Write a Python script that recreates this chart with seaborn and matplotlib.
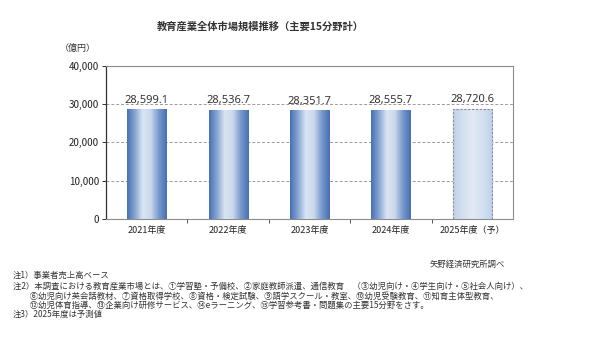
import numpy as np
import pandas as pd
import matplotlib
matplotlib.use("Agg")
import matplotlib.pyplot as plt
from matplotlib.colors import LinearSegmentedColormap
from matplotlib.ticker import FuncFormatter, FixedLocator
import seaborn as sns

# market size (100 million yen)
years = ["2021年度", "2022年度", "2023年度", "2024年度", "2025年度（予）"]
values = [28599.1, 28536.7, 28351.7, 28555.7, 28720.6]
forecast = [False, False, False, False, True]

title = "教育産業全体市場規模推移（主要15分野計）"
unit_label = "（億円）"
source = "矢野経済研究所調べ"
notes = [
    "注1）事業者売上高ベース",
    "注2）本調査における教育産業市場とは、①学習塾・予備校、②家庭教師派遣、通信教育　（③幼児向け・④学生向け・⑤社会人向け）、",
    "　　⑥幼児向け英会話教材、⑦資格取得学校、⑧資格・検定試験、⑨語学スクール・教室、⑩幼児受験教育、⑪知育主体型教育、",
    "　　⑫幼児体育指導、⑬企業向け研修サービス、⑭eラーニング、⑮学習参考書・問題集の主要15分野をさす。",
    "注3）2025年度は予測値",
]

sns.set_theme(style="white")
plt.rcParams["font.family"] = ["Noto Sans CJK JP", "DejaVu Sans"]

df = pd.DataFrame({"year": years, "value": values})

fig = plt.figure(figsize=(6.0, 3.41), dpi=100)
ax = fig.add_axes([106 / 600, 1 - 219 / 341, 407 / 600, 153.3 / 341])

sns.barplot(data=df, x="year", y="value", ax=ax, width=0.48,
            color="#4f7fbf", saturation=1, zorder=3)

solid_cmap = LinearSegmentedColormap.from_list(
    "solid", ["#4570b2", "#87a6d3", "#dbe5f2", "#c9d8ec", "#7898cb", "#4570b2"])
fc_cmap = LinearSegmentedColormap.from_list(
    "fc", ["#bdd0ea", "#d3e0f1", "#e2eaf5", "#d3e0f1", "#bdd0ea"])
grad = np.linspace(0, 1, 256).reshape(1, -1)

for i, (patch, is_fc) in enumerate(zip(ax.patches, forecast)):
    x0, y0 = patch.get_x(), patch.get_y()
    w, h = patch.get_width(), patch.get_height()
    im = ax.imshow(grad, cmap=fc_cmap if is_fc else solid_cmap, aspect="auto",
                   extent=[x0, x0 + w, y0, y0 + h], zorder=3.5,
                   interpolation="bicubic")
    im.set_clip_path(patch)
    if is_fc:
        patch.set_facecolor("none")
        patch.set_edgecolor("#8c8c8c")
        patch.set_linestyle((0, (2, 1.5)))
        patch.set_linewidth(0.8)
        patch.set_zorder(4)
    else:
        patch.set_edgecolor("none")
    ax.text(x0 + w / 2, y0 + h + 900, f"{values[i]:,.1f}",
            ha="center", va="bottom", fontsize=8, color="#333333",
            family=["Noto Sans", "DejaVu Sans"])

ax.set_xlim(-0.5, len(years) - 0.5)
ax.set_ylim(0, 40000)
ax.set_yticks([0, 10000, 20000, 30000, 40000])
ax.yaxis.set_major_formatter(FuncFormatter(lambda v, p: f"{int(v):,}"))
ax.set_xlabel("")
ax.set_ylabel("")

for yv in [10000, 20000, 30000]:
    ax.axhline(yv, color="#9a9a9a", lw=0.7, ls=(0, (3, 2)), zorder=1)

ax.tick_params(axis="y", which="major", direction="out", length=3, width=0.7,
               color="#333333", labelsize=7, labelcolor="#222222", pad=2, left=True)
ax.tick_params(axis="x", which="major", length=0, labelsize=6.5,
               labelcolor="#222222", pad=5)
ax.xaxis.set_minor_locator(FixedLocator(np.arange(0.5, len(years) - 0.5, 1)))
ax.tick_params(axis="x", which="minor", direction="out", length=3, width=0.7,
               color="#555555", bottom=True)

for side in ["top", "right", "bottom"]:
    ax.spines[side].set_color("#8c8c8c")
    ax.spines[side].set_linewidth(0.8)
ax.spines["left"].set_color("#333333")
ax.spines["left"].set_linewidth(0.9)

fig.text(260 / 600, 1 - 27 / 341, title, ha="center", va="center",
         fontsize=7.4, fontweight="bold", color="#333333")
fig.text(78 / 600, 1 - 48 / 341, unit_label, ha="center", va="center",
         fontsize=6.5, color="#333333")
fig.text(505 / 600, 1 - 264 / 341, source, ha="right", va="center",
         fontsize=6.0, color="#333333")

note_y = [275, 286, 296, 305, 314]
for t, yy in zip(notes, note_y):
    fig.text(13 / 600, 1 - yy / 341, t, ha="left", va="center",
             fontsize=6.0, color="#333333")

fig.savefig("out.png", dpi=100, facecolor="white")
